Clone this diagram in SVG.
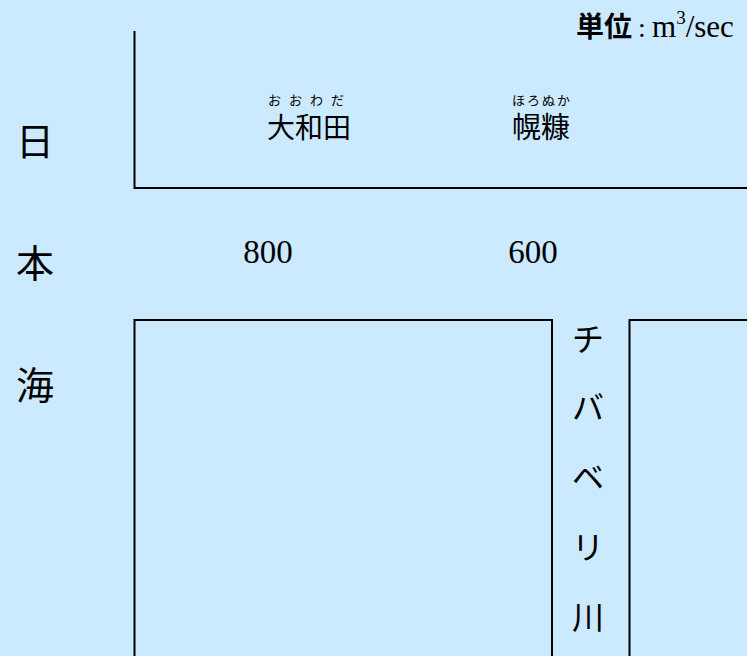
<svg xmlns="http://www.w3.org/2000/svg" width="747" height="656" viewBox="0 0 747 656">
<style>
.ln{fill:none;stroke:#000;stroke-width:2}
.jp{font-family:"Noto Sans CJK JP",sans-serif;fill:#000}
.sf{font-family:"Liberation Serif",serif;fill:#000}
</style>
<rect width="747" height="656" fill="#cceaff"/>
<g id="lines">
<path class="ln" d="M134.5,31 V188 H747"/>
<path class="ln" d="M134.5,656 V320 H552 V656"/>
<path class="ln" d="M629.5,656 V320 H747"/>
</g>
<g id="unit">
<text class="jp" x="576" y="37" font-size="28" font-weight="bold">単位</text>
<text class="sf" x="638" y="37" font-size="28">:</text>
<text class="sf" x="652" y="37" font-size="31">m<tspan font-size="19" dy="-13">3</tspan><tspan dy="13">/sec</tspan></text>
</g>
<g id="owada">
<text class="jp" x="309" y="138" font-size="28" text-anchor="middle">大和田</text>
<text class="jp" x="310" y="105" font-size="13" text-anchor="middle" letter-spacing="8">おおわだ</text>
</g>
<g id="horonuka">
<text class="jp" x="541" y="138" font-size="29" text-anchor="middle">幌糠</text>
<text class="jp" x="542" y="105" font-size="13" text-anchor="middle" letter-spacing="2">ほろぬか</text>
</g>
<g id="sea">
<text class="jp" x="35" y="155" font-size="38" text-anchor="middle">日</text>
<text class="jp" x="35" y="277" font-size="38" text-anchor="middle">本</text>
<text class="jp" x="35" y="399" font-size="38" text-anchor="middle">海</text>
</g>
<g id="values">
<text class="sf" x="268" y="263" font-size="33" text-anchor="middle">800</text>
<text class="sf" x="533" y="263" font-size="33" text-anchor="middle">600</text>
</g>
<g id="river">
<text class="jp" x="588" y="351" font-size="32" text-anchor="middle">チ</text>
<text class="jp" x="588" y="419" font-size="32" text-anchor="middle">バ</text>
<text class="jp" x="588" y="489" font-size="32" text-anchor="middle">ベ</text>
<text class="jp" x="588" y="559" font-size="32" text-anchor="middle">リ</text>
<text class="jp" x="588" y="629" font-size="32" text-anchor="middle">川</text>
</g>
</svg>
